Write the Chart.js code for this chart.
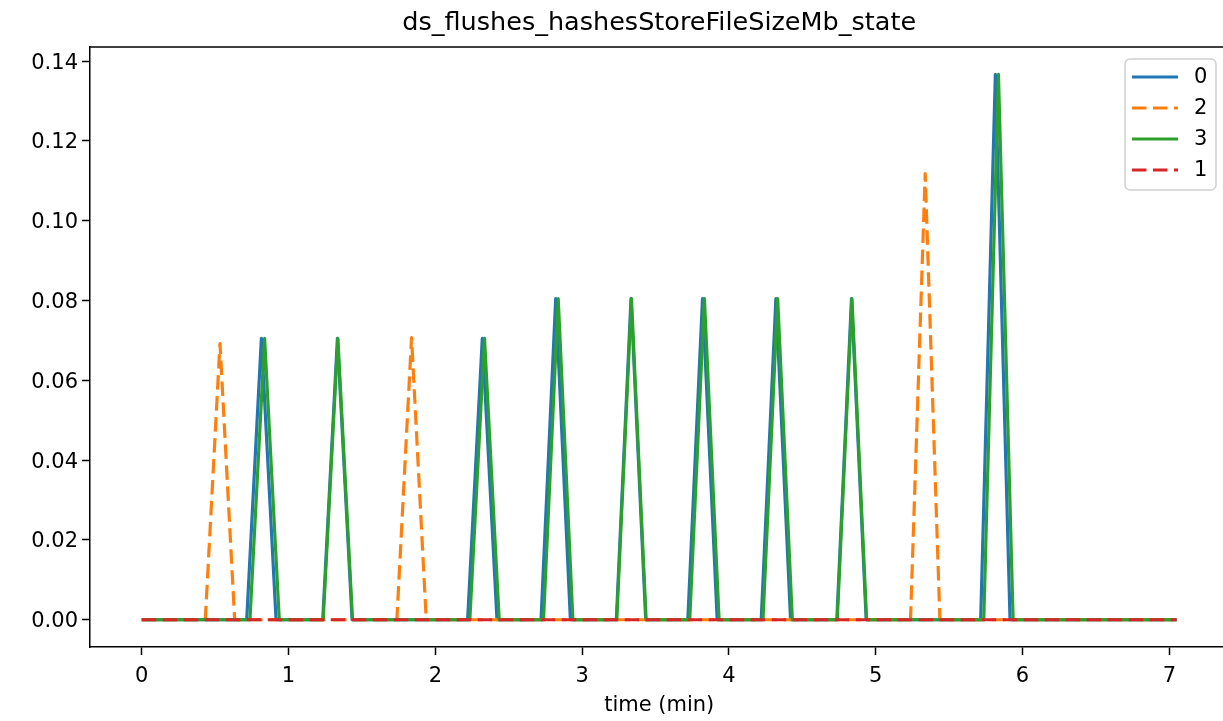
<!DOCTYPE html>
<html>
<head>
<meta charset="utf-8">
<title>ds_flushes_hashesStoreFileSizeMb_state</title>
<script src="https://cdn.jsdelivr.net/npm/chart.js@4"></script>
<style>
    html, body { margin: 0; padding: 0; background: #fff; overflow: hidden; }
    #wrap { position: relative; width: 1235px; height: 721px; }
</style>
</head>
<body>
<div id="wrap"><canvas id="chart"></canvas></div>
<script>
// --- Data ---
const TITLE = 'ds_flushes_hashesStoreFileSizeMb_state';
const X_LABEL = 'time (min)';
const X_TICKS = [0, 1, 2, 3, 4, 5, 6, 7];
const Y_TICKS = [0, 0.02, 0.04, 0.06, 0.08, 0.10, 0.12, 0.14];

// series "0"
const S0_TIME = [0, 0.715, 0.815, 0.915, 1.233, 1.333, 1.433, 2.22, 2.32, 2.42, 2.72, 2.82, 2.92,
    3.233, 3.333, 3.433, 3.72, 3.82, 3.92, 4.22, 4.32, 4.42, 4.735, 4.835, 4.935, 5.715, 5.815, 5.915, 7.05];
const S0_VALUE = [0, 0, 0.0705, 0, 0, 0.0705, 0, 0, 0.0705, 0, 0, 0.0805, 0,
    0, 0.0805, 0, 0, 0.0805, 0, 0, 0.0805, 0, 0, 0.0805, 0, 0, 0.1367, 0, 0];

// series "2"
const S2_TIME = [0, 0.433, 0.533, 0.633, 1.738, 1.838, 1.938, 5.237, 5.337, 5.437, 7.05];
const S2_VALUE = [0, 0, 0.0692, 0, 0, 0.0707, 0, 0, 0.1118, 0, 0];

// series "3"
const S3_TIME = [0, 0.737, 0.837, 0.937, 1.236, 1.336, 1.436, 2.235, 2.335, 2.435, 2.737, 2.837, 2.937,
    3.236, 3.336, 3.436, 3.733, 3.833, 3.933, 4.232, 4.332, 4.432, 4.738, 4.838, 4.938, 5.736, 5.836, 5.936, 7.05];
const S3_VALUE = [0, 0, 0.0705, 0, 0, 0.0705, 0, 0, 0.0705, 0, 0, 0.0805, 0,
    0, 0.0805, 0, 0, 0.0805, 0, 0, 0.0805, 0, 0, 0.0805, 0, 0, 0.1367, 0, 0];

// series "1"
const S1_TIME = [0, 7.05];
const S1_VALUE = [0, 0];

const FONT = 'DejaVu Sans';
const DASH = [14.5, 6.5];

function points(times, values) {
    return times.map((t, i) => ({ x: t, y: values[i] }));
}

// matplotlib-style 5% margins around the data
const allX = [].concat(S0_TIME, S1_TIME, S2_TIME, S3_TIME);
const allY = [].concat(S0_VALUE, S1_VALUE, S2_VALUE, S3_VALUE);
const xLo = Math.min(...allX), xHi = Math.max(...allX);
const yLo = Math.min(...allY), yHi = Math.max(...allY);
const X_MIN = xLo - 0.05 * (xHi - xLo), X_MAX = xHi + 0.05 * (xHi - xLo);
const Y_MIN = yLo - 0.05 * (yHi - yLo), Y_MAX = yHi + 0.05 * (yHi - yLo);

function lineSet(label, times, values, color, dashed, order) {
    return {
        label: label,
        data: points(times, values),
        borderColor: color,
        backgroundColor: color,
        borderWidth: 3.2,
        borderDash: dashed ? DASH : [],
        borderJoinStyle: 'round',
        borderCapStyle: 'butt',
        pointRadius: 0,
        tension: 0,
        fill: false,
        order: order
    };
}

// --- Plugins: title over the plot, top/right spines, boxed legend ---
const framePlugin = {
    id: 'frame',
    afterDraw(chart) {
        const { ctx, chartArea: a } = chart;
        ctx.save();
        ctx.strokeStyle = '#000';
        ctx.lineWidth = 1.5;
        ctx.beginPath();
        ctx.moveTo(a.left, a.top);
        ctx.lineTo(a.right, a.top);
        ctx.lineTo(a.right, a.bottom);
        ctx.stroke();

        ctx.fillStyle = '#000';
        ctx.font = '25.5px "' + FONT + '"';
        ctx.textAlign = 'center';
        ctx.textBaseline = 'middle';
        ctx.fillText(TITLE, (a.left + a.right) / 2, 23);
        ctx.restore();
    }
};

const legendPlugin = {
    id: 'boxLegend',
    afterDraw(chart) {
        const ctx = chart.ctx;
        const box = { x: 1125, y: 59, w: 91, h: 131, r: 5 };
        ctx.save();
        ctx.beginPath();
        ctx.roundRect(box.x, box.y, box.w, box.h, box.r);
        ctx.fillStyle = 'rgba(255,255,255,0.8)';
        ctx.fill();
        ctx.strokeStyle = '#d0d0d0';
        ctx.lineWidth = 1.5;
        ctx.stroke();

        ctx.font = '21px "' + FONT + '"';
        ctx.textBaseline = 'middle';
        ctx.textAlign = 'left';
        chart.data.datasets.forEach((ds, i) => {
            const y = 77 + i * 31;
            ctx.strokeStyle = ds.borderColor;
            ctx.lineWidth = ds.borderWidth;
            ctx.setLineDash(ds.borderDash);
            ctx.beginPath();
            ctx.moveTo(1132, y);
            ctx.lineTo(1178, y);
            ctx.stroke();
            ctx.setLineDash([]);
            ctx.fillStyle = '#000';
            ctx.fillText(ds.label, 1194, y + 1);
        });
        ctx.restore();
    }
};

const tickFont = { family: FONT, size: 21 };

new Chart(document.getElementById('chart'), {
    type: 'line',
    data: {
        datasets: [
            lineSet('0', S0_TIME, S0_VALUE, '#1f77b4', false, 3),
            lineSet('2', S2_TIME, S2_VALUE, '#ff7f0e', true, 2),
            lineSet('3', S3_TIME, S3_VALUE, '#2ca02c', false, 1),
            lineSet('1', S1_TIME, S1_VALUE, '#d62728', true, 0)
        ]
    },
    options: {
        responsive: true,
        maintainAspectRatio: false,
        animation: false,
        layout: { padding: { top: 47, right: 6.6, bottom: 2.4, left: 0 } },
        plugins: {
            legend: { display: false },
            tooltip: { enabled: false },
            title: { display: false }
        },
        scales: {
            x: {
                type: 'linear',
                min: X_MIN,
                max: X_MAX,
                afterFit: (s) => { s.height = 71.6; },
                afterBuildTicks: (s) => { s.ticks = X_TICKS.map(v => ({ value: v })); },
                grid: { drawOnChartArea: false, drawTicks: true, tickLength: 8, tickColor: '#000', tickWidth: 1.5 },
                border: { display: true, color: '#000', width: 1.5 },
                ticks: { color: '#000', font: tickFont, padding: 9, maxRotation: 0, callback: v => String(v) },
                title: { display: true, text: X_LABEL, color: '#000', font: tickFont, padding: 0 }
            },
            y: {
                type: 'linear',
                min: Y_MIN,
                max: Y_MAX,
                afterFit: (s) => { s.width = 90; },
                afterBuildTicks: (s) => { s.ticks = Y_TICKS.map(v => ({ value: v })); },
                grid: { drawOnChartArea: false, drawTicks: true, tickLength: 8, tickColor: '#000', tickWidth: 1.5 },
                border: { display: true, color: '#000', width: 1.5 },
                ticks: { color: '#000', font: tickFont, padding: 4, labelOffset: 2, callback: v => v.toFixed(2) }
            }
        }
    },
    plugins: [framePlugin, legendPlugin]
});
</script>
</body>
</html>
